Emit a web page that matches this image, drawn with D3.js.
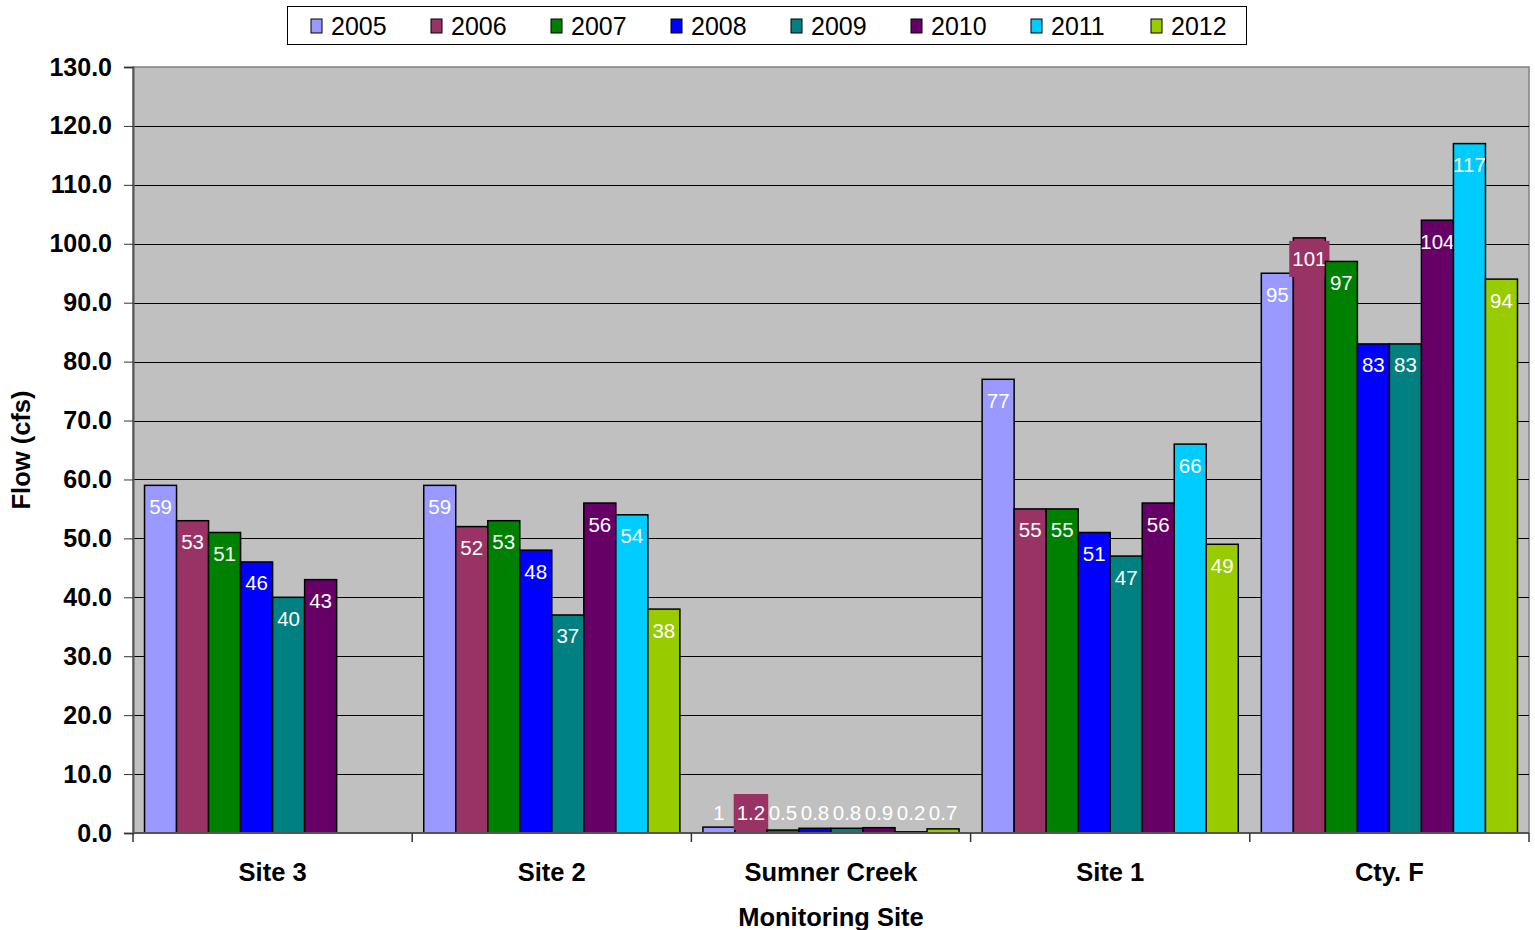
<!DOCTYPE html>
<html>
<head>
<meta charset="utf-8">
<script src="https://cdn.jsdelivr.net/npm/d3@7"></script>
<style>
  body { margin: 0; background: #fff; }
  svg { display: block; font-family: "Liberation Sans", Arial, sans-serif; }
</style>
</head>
<body>
<svg id="chart" width="1535" height="930"></svg>
<script>
// Monitoring sites and yearly flow (cfs)
const sites = ["Site 3", "Site 2", "Sumner Creek", "Site 1", "Cty. F"];
const years = ["2005", "2006", "2007", "2008", "2009", "2010", "2011", "2012"];
const colors = ["#9999FF", "#993366", "#008000", "#0000FF", "#008080", "#660066", "#00CCFF", "#99CC00"];

const flow2005 = [59, 59, 1, 77, 95];
const flow2006 = [53, 52, 1.2, 55, 101];
const flow2007 = [51, 53, 0.5, 55, 97];
const flow2008 = [46, 48, 0.8, 51, 83];
const flow2009 = [40, 37, 0.8, 47, 83];
const flow2010 = [43, 56, 0.9, 56, 104];
const flow2011 = [null, 54, 0.2, 66, 117];
const flow2012 = [null, 38, 0.7, 49, 94];
const series = [flow2005, flow2006, flow2007, flow2008, flow2009, flow2010, flow2011, flow2012];

const yTicks = d3.range(0, 131, 10);

const svg = d3.select("#chart");
const plot = { left: 133, right: 1529, top: 67, bottom: 833 };

const x0 = d3.scaleBand().domain(sites).range([plot.left, plot.right]).padding(0);
const x1 = d3.scaleBand().domain(years).range([0, x0.bandwidth()]).paddingInner(0).paddingOuter(0.36);
const y = d3.scaleLinear().domain([0, 130]).range([plot.bottom, plot.top]);

// plot area
svg.append("rect")
  .attr("x", plot.left).attr("y", plot.top)
  .attr("width", plot.right - plot.left).attr("height", plot.bottom - plot.top)
  .attr("fill", "#C0C0C0").attr("stroke", "#808080").attr("stroke-width", 1.5);

// gridlines
svg.append("g").selectAll("line").data(yTicks.filter(t => t > 0 && t < 130)).join("line")
  .attr("x1", plot.left).attr("x2", plot.right)
  .attr("y1", d => Math.round(y(d)) + 0.5).attr("y2", d => Math.round(y(d)) + 0.5)
  .attr("stroke", "#000").attr("stroke-width", 1);

// y axis
const yAxis = svg.append("g").attr("transform", `translate(${plot.left},0)`)
  .call(d3.axisLeft(y).tickValues(yTicks).tickFormat(d3.format(".1f")).tickSize(9).tickPadding(12));
yAxis.select(".domain").attr("stroke", "#555").attr("stroke-width", 2);
yAxis.selectAll(".tick line").attr("stroke", "#333");
yAxis.selectAll(".tick text")
  .attr("font-family", "'Liberation Sans', Arial, sans-serif")
  .attr("font-size", 25).attr("font-weight", "bold").attr("fill", "#000");

// bars
const groups = svg.append("g").selectAll("g").data(sites).join("g")
  .attr("transform", d => `translate(${x0(d)},0)`);

const cells = groups.selectAll("g.cell")
  .data((site, si) => years.map((yr, k) => ({ site, yr, k, v: series[k][si] })).filter(d => d.v != null))
  .join("g").attr("class", "cell");

cells.append("rect")
  .attr("x", d => x1(d.yr))
  .attr("y", d => y(d.v))
  .attr("width", x1.bandwidth())
  .attr("height", d => y(0) - y(d.v))
  .attr("fill", d => colors[d.k])
  .attr("stroke", "#000").attr("stroke-width", 1.5);

// value labels
const labelY = d => Math.min(y(d.v) + 21, y(0) - 21);
cells.each(function (d) {
  const g = d3.select(this);
  const cx = x1(d.yr) + x1.bandwidth() / 2;
  const t = g.append("text")
    .attr("x", cx).attr("y", labelY(d))
    .attr("text-anchor", "middle").attr("dominant-baseline", "central")
    .attr("font-size", 20.5).attr("fill", "#fff")
    .text(d.v);
  if (d.yr === "2006") {
    const w = t.node().getComputedTextLength() + 6;
    g.insert("rect", "text")
      .attr("x", cx - w / 2).attr("y", labelY(d) - 18)
      .attr("width", w).attr("height", 36)
      .attr("fill", colors[1]);
  }
});

// x axis
const xAxis = svg.append("g").attr("transform", `translate(0,${plot.bottom})`);
xAxis.append("line").attr("x1", plot.left).attr("x2", plot.right)
  .attr("stroke", "#555").attr("stroke-width", 2);
const bounds = sites.map(s => x0(s)).concat([plot.right]);
xAxis.selectAll("line.tk").data(bounds).join("line").attr("class", "tk")
  .attr("x1", d => d).attr("x2", d => d).attr("y1", 0).attr("y2", 9)
  .attr("stroke", "#333").attr("stroke-width", 1.5);
xAxis.selectAll("text").data(sites).join("text")
  .attr("x", d => x0(d) + x0.bandwidth() / 2).attr("y", 39)
  .attr("text-anchor", "middle").attr("dominant-baseline", "central")
  .attr("font-size", 25.5).attr("font-weight", "bold")
  .text(d => d);

// axis titles
svg.append("text").attr("x", 831).attr("y", 917)
  .attr("text-anchor", "middle").attr("dominant-baseline", "central")
  .attr("font-size", 25.5).attr("font-weight", "bold").text("Monitoring Site");
svg.append("text").attr("transform", "translate(21,450) rotate(-90)")
  .attr("text-anchor", "middle").attr("dominant-baseline", "central")
  .attr("font-size", 25.5).attr("font-weight", "bold").text("Flow (cfs)");

// legend
const legend = svg.append("g");
legend.append("rect").attr("x", 287.5).attr("y", 6.5).attr("width", 959).attr("height", 38)
  .attr("fill", "#fff").attr("stroke", "#000").attr("stroke-width", 1);
const items = legend.selectAll("g").data(years).join("g")
  .attr("transform", (d, i) => `translate(${311 + i * 120},26)`);
items.append("rect").attr("x", 0).attr("y", -7).attr("width", 11).attr("height", 14)
  .attr("fill", (d, i) => colors[i]).attr("stroke", "#000").attr("stroke-width", 1);
items.append("text").attr("x", 20).attr("y", 0)
  .attr("dominant-baseline", "central").attr("font-size", 25)
  .text(d => d);
</script>
</body>
</html>
